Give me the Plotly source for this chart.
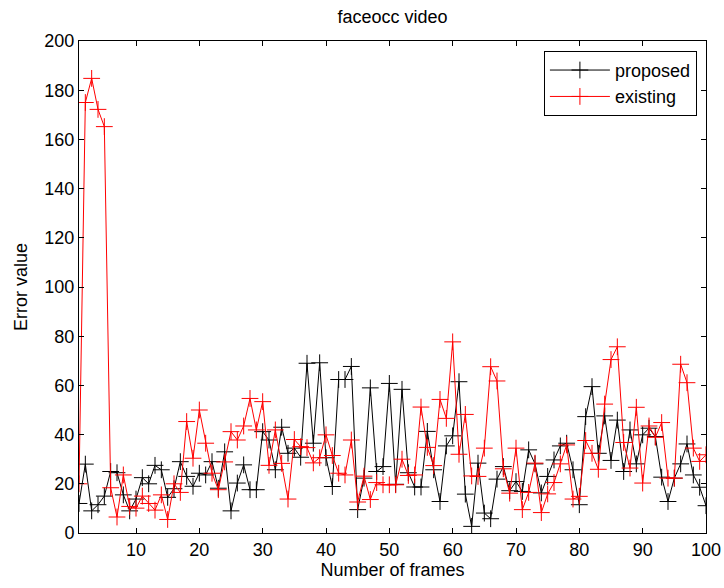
import plotly.graph_objects as go

frames = list(range(1, 101))

proposed = [12, 28, 9, 11.5, 15, 25, 24.5, 15.5, 9, 13.8,
            22.5, 20, 27.5, 25.7, 14.5, 18, 29, 23, 19, 24.3,
            23.6, 29, 18.2, 33, 9, 20.3, 27.7, 17.6, 17.6, 41.2,
            37.8, 25.7, 43, 32.4, 34.5, 30.8, 69, 36.5, 69.2, 30.6,
            18.9, 62.4, 62.4, 67.7, 9.5, 22.3, 59, 25, 27, 60.8,
            19.8, 58.4, 24.5, 18.7, 18.7, 41.3, 25.7, 12.8, 35.4, 39.5,
            61.5, 15.8, 2.7, 28.4, 8.1, 5.8, 21.9, 27, 17.2, 20.9,
            16.9, 33.8, 28.1, 16.3, 23, 29.7, 35.4, 36.5, 25.7, 11.5,
            47.3, 59.5, 32.4, 47.6, 29.5, 45.9, 25, 41.9, 28.1, 39.9,
            42.6, 39.2, 22.7, 12.8, 22.3, 28.1, 36.2, 23.6, 18.6, 11.1]

existing = [20, 175, 184.8, 172.2, 165.2, 18.4, 6.5, 23.6, 10.8, 10.1,
            15, 12, 9.3, 15.5, 5.5, 20, 16.5, 45.3, 30.4, 50,
            36.5, 24.3, 17.6, 28.9, 41.2, 37.8, 43.5, 54.7, 41.9, 53.4,
            27.5, 41.9, 28.3, 13.8, 38, 35.1, 34.7, 28.5, 30.6, 39.9,
            31.5, 24.3, 23.6, 37.8, 12.6, 23.1, 13.6, 20.5, 19.6, 19.6,
            19.6, 30, 23.4, 23.6, 51.2, 34.8, 27.4, 54.3, 46.6, 77.7,
            32, 48.2, 23.2, 23, 34.5, 67.6, 61.8, 26.1, 16.2, 34.5,
            9.5, 16.5, 28.4, 8.3, 15.9, 20.5, 28.1, 35.8, 13.8, 14.9,
            37.6, 32.4, 25.9, 52.4, 70.5, 75.7, 36.8, 26.4, 51.1, 20.3,
            43.5, 38.9, 44.9, 22.3, 22.3, 68.6, 61.1, 34.5, 29.1, 31.8]

x_ticks = [10, 20, 30, 40, 50, 60, 70, 80, 90, 100]
y_ticks = [0, 20, 40, 60, 80, 100, 120, 140, 160, 180, 200]

FONT = "Liberation Sans, Arial, sans-serif"
FS = 18

fig = go.Figure()
fig.add_trace(go.Scatter(
    x=frames, y=proposed, name="proposed", mode="lines+markers",
    line=dict(color="black", width=1),
    marker=dict(symbol="cross-thin", size=12, line=dict(color="black", width=1)),
))
fig.add_trace(go.Scatter(
    x=frames, y=existing, name="existing", mode="lines+markers",
    line=dict(color="#ff0000", width=1),
    marker=dict(symbol="cross-thin", size=12, line=dict(color="#ff0000", width=1)),
))

axis_common = dict(
    automargin=False,
    showgrid=False, zeroline=False, showline=True, linecolor="black", linewidth=1,
    mirror="ticks", ticks="inside", ticklen=5, tickcolor="black",
    tickfont=dict(family=FONT, size=FS, color="black"),
)

fig.update_layout(
    template="none",
    width=724, height=588,
    margin=dict(l=79, r=18, t=41, b=55),
    paper_bgcolor="white", plot_bgcolor="white",
    font=dict(family=FONT, size=FS, color="black"),
    title=dict(text="faceocc video", x=0.5, xanchor="center", xref="paper",
               y=1 - 17 / 588, yref="container", yanchor="middle",
               font=dict(family=FONT, size=FS, color="black")),
    xaxis=dict(range=[1, 100], tickvals=x_ticks,
               title=dict(text="Number of frames", standoff=4,
                          font=dict(family=FONT, size=FS)),
               **axis_common),
    yaxis=dict(range=[0, 200], tickvals=y_ticks,
               title=dict(text="Error value", standoff=12,
                          font=dict(family=FONT, size=FS)),
               **axis_common),
    legend=dict(x=0.9855, y=0.98, xanchor="right", yanchor="top",
                bgcolor="white", bordercolor="black", borderwidth=1,
                font=dict(family=FONT, size=FS, color="black"),
                itemwidth=60, tracegroupgap=0),
    showlegend=True,
)

fig.write_html("out.html")
